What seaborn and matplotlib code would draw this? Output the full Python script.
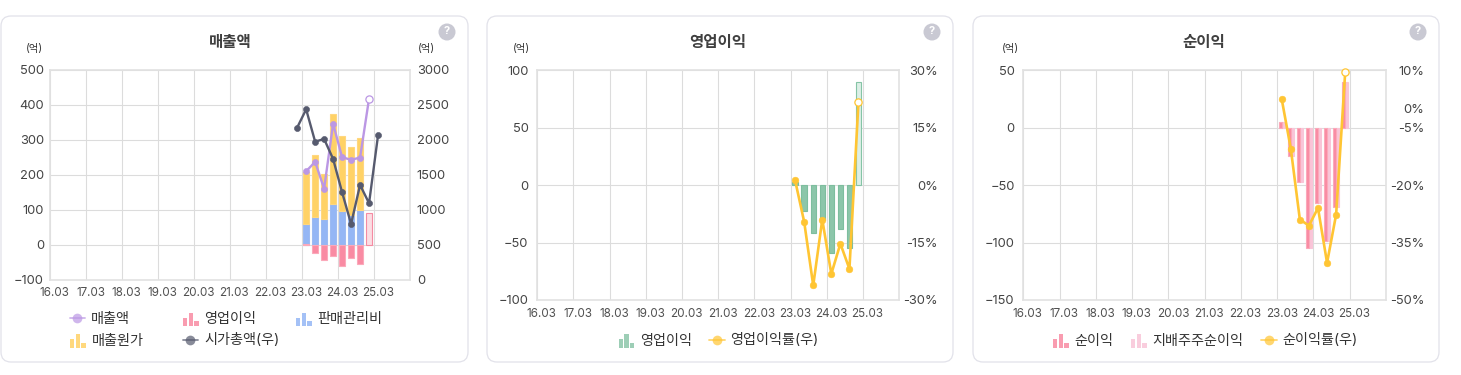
import matplotlib
matplotlib.use("Agg")
import matplotlib.pyplot as plt
import pandas as pd
import seaborn as sns
from matplotlib.patches import FancyBboxPatch, Rectangle, Circle
from matplotlib.lines import Line2D
from matplotlib.legend_handler import HandlerBase
from matplotlib.transforms import IdentityTransform

W, H = 1461, 375
sns.set_theme(style="white")
plt.rcParams['font.family'] = ['Inter', 'Noto Sans CJK KR', 'DejaVu Sans']

year_labels = ['16.03','17.03','18.03','19.03','20.03','21.03','22.03','23.03','24.03','25.03']
bar_quarters = ['23.03','23.06','23.09','23.12','24.03','24.06','24.09','24.12']

# 매출액 panel (억)
sales = [210, 237, 160, 346, 250, 243, 249, 418]
cost_top = [208, 256, 203, 375, 310, 280, 304]
sga = [60, 78, 73, 115, 96, 85, 100]
op_profit_sales = [2, -24, -43, -33, -60, -38, -55, 90]
cap_quarters = ['22.12'] + bar_quarters + ['25.03']
market_cap = [2175, 2437, 1974, 2012, 1726, 1249, 796, 1354, 1092, 2065]

# 영업이익 panel
op_profit = [3, -23, -42, -30, -59, -38, -55, 90]
op_margin = [1.2, -9.6, -26.2, -9.0, -23.2, -15.3, -21.9, 21.7]

# 순이익 panel
net_profit = [5, -25, -47, -105, -66, -99, -69, 40]
ctrl_profit = [5, -25, -47, -105, -66, -99, -69, 40]
net_margin = [2.4, -10.5, -29.0, -30.6, -26.0, -40.3, -27.7, 9.4]

C_PURPLE = '#BB97E4'
C_RED = '#F98BA3'
C_RED_E = '#FBA9BA'
C_BLUE = '#94B6F5'
C_GOLD = '#FFD266'
C_DARK = '#565A6E'
C_GREEN = '#8CC6AA'
C_PINK = '#F9C5D8'
C_YEL = '#FFC533'
GRID = '#DCDCDC'
TXT = '#444444'


def pos(q):
    y, m = q.split('.')
    return (int(y) - 16) * 4 + (int(m) - 3) / 3 + 0.5


def ypix(y):
    return H - y


fig = plt.figure(figsize=(W / 100, H / 100), dpi=100, facecolor='white')


class BarsHandle:
    def __init__(self, color):
        self.color = color


class BarsHandler(HandlerBase):
    def create_artists(self, legend, h, xd, yd, width, height, fontsize, trans):
        out = []
        bw = width * 0.28
        for i, frac in enumerate([0.62, 1.0, 0.38]):
            out.append(Rectangle((-xd + i * width * 0.36, -yd - 2.5), bw, 10 * frac,
                                 facecolor=h.color, edgecolor='none', alpha=0.85, transform=trans))
        return out


class LineHandle:
    def __init__(self, color):
        self.color = color


class LineHandler(HandlerBase):
    def create_artists(self, legend, h, xd, yd, width, height, fontsize, trans):
        cy = height / 2 - yd
        ln = Line2D([-xd, width - xd], [cy, cy], color=h.color, lw=1.3, alpha=0.7, transform=trans)
        mk = Line2D([width / 2 - xd], [cy], marker='o', ms=7, color=h.color, mec='none', alpha=0.7, transform=trans)
        return [ln, mk]


def card(x0, x1):
    fig.add_artist(FancyBboxPatch((x0, ypix(362)), x1 - x0, 346, boxstyle='round,pad=0,rounding_size=10',
                                  transform=IdentityTransform(), facecolor='white', edgecolor='#E2E2EA', lw=0.9,
                                  zorder=-5))
    cx, cy = x1 - 21, 32
    fig.add_artist(Circle((cx, ypix(cy)), 8.5, transform=IdentityTransform(), facecolor='#C9C9D3', edgecolor='none',
                          zorder=-4))
    fig.text(cx / W, 1 - (cy - 0.5) / H, '?', color='white', fontsize=8, fontweight='bold', ha='center', va='center')


def make_axes(left, right, top, bottom, ylim, yticks, y2lim, y2ticks, y2labels, right_align, lpad):
    ax = fig.add_axes([left / W, 1 - bottom / H, (right - left) / W, (bottom - top) / H])
    ax.set_facecolor('none')
    ax.set_xlim(0, 40)
    ax.set_ylim(*ylim)
    ax.set_yticks(yticks)
    ax.set_xticks(range(0, 41, 4))
    ax.set_xticklabels([])
    ax.set_xticks([pos(q) for q in year_labels], labels=year_labels, minor=True)
    ax.tick_params(axis='x', which='minor', length=0, pad=5.5, labelsize=8.4, labelcolor='#505050')
    ax.tick_params(axis='x', which='major', length=0)
    ax.tick_params(axis='y', length=0, pad=lpad, labelsize=9.3, labelcolor=TXT)
    ax.grid(True, axis='both', which='major', color=GRID, lw=0.8)
    ax.set_axisbelow(True)
    for s in ax.spines.values():
        s.set_color('#E2E2E2')
        s.set_linewidth(1.2)
    ax2 = ax.twinx()
    ax2.set_ylim(*y2lim)
    ax2.set_yticks(y2ticks, labels=y2labels)
    ax2.grid(False)
    pad = 27.8 if right_align else 5.3
    ax2.tick_params(axis='y', length=0, pad=pad, labelsize=9.3, labelcolor=TXT)
    if right_align:
        for t in ax2.get_yticklabels():
            t.set_ha('right')
    for s in ax2.spines.values():
        s.set_visible(False)
    return ax, ax2


def bar_draw(ax, quarters, values, color, w=0.6, bottom=None, edge=None, offset=0.0):
    df = pd.DataFrame({'x': [pos(q) + offset for q in quarters], 'y': values})
    kw = {}
    if bottom is not None:
        kw['bottom'] = bottom
    sns.barplot(data=df, x='x', y='y', native_scale=True, width=w, ax=ax, color=color, saturation=1,
                edgecolor=edge if edge else color, linewidth=0.8, legend=False, **kw)


def line(ax, quarters, values, color, lw=1.7, ms=4.4):
    xs = [pos(q) for q in quarters]
    sns.lineplot(x=xs, y=values, ax=ax, color=color, lw=lw, marker='o', ms=ms, mec=color, mfc=color, mew=0.4,
                 estimator=None, sort=False, errorbar=None, legend=False, zorder=4)


def open_point(ax, q, v, color, ms=5.2):
    sns.lineplot(x=[pos(q)], y=[v], ax=ax, color=color, lw=0, marker='o', ms=ms, mec=color, mfc='white', mew=0.9,
                 estimator=None, errorbar=None, legend=False, zorder=5, clip_on=False)


def fix_limits(ax, ylim):
    ax.set_xlim(0, 40)
    ax.set_ylim(*ylim)
    ax.set_xlabel('')
    ax.set_ylabel('')


def leg(x, y, label, handle):
    fig.legend(handles=[handle], labels=[label], loc='center left', bbox_to_anchor=(x / W, 1 - y / H),
               frameon=False, borderpad=0, borderaxespad=0, handlelength=1.1, handletextpad=0.42, fontsize=10.2,
               labelcolor='#333333',
               handler_map={BarsHandle: BarsHandler(), LineHandle: LineHandler()})


TITLE = dict(fontsize=11.2, fontweight='bold', color='#404040', ha='center', va='center')
UNIT = dict(fontsize=7.5, color='#333333', ha='center', va='center')

# ---------- panel 1
card(1, 468)
yl = (-100, 500)
ax, ax2 = make_axes(50, 409.5, 70, 279.5, yl, [-100, 0, 100, 200, 300, 400, 500],
                    (0, 3000), [0, 500, 1000, 1500, 2000, 2500, 3000], ['0', '500', '1000', '1500', '2000', '2500', '3000'], False, 4.3)
q7 = bar_quarters[:7]
gold_part = [t - s for t, s in zip(cost_top, sga)]
bar_draw(ax, q7, sga, C_BLUE, edge='#9DBBF2')
bar_draw(ax, q7, gold_part, C_GOLD, bottom=sga, edge='#FFD77F')
bar_draw(ax, q7, op_profit_sales[:7], C_RED, edge=C_RED_E)
bar_draw(ax, bar_quarters[7:], op_profit_sales[7:], '#FBDDE3', edge='#F58BA2')
line(ax, bar_quarters, sales, C_PURPLE)
open_point(ax, bar_quarters[7], sales[7], C_PURPLE)
line(ax2, cap_quarters, market_cap, C_DARK)
fix_limits(ax, yl)
fig.text(230 / W, 1 - 42 / H, '매출액', **TITLE)
fig.text(34 / W, 1 - 49 / H, '(억)', **UNIT)
fig.text(426 / W, 1 - 49 / H, '(억)', **UNIT)
leg(69.5, 319, '매출액', LineHandle(C_PURPLE))
leg(183, 319, '영업이익', BarsHandle(C_RED))
leg(296, 319, '판매관리비', BarsHandle(C_BLUE))
leg(70, 340.5, '매출원가', BarsHandle(C_GOLD))
leg(182.7, 340.5, '시가총액(우)', LineHandle(C_DARK))

# ---------- panel 2
card(487, 953)
yl = (-100, 100)
ax, ax2 = make_axes(537.2, 899.2, 70, 300, yl, [-100, -50, 0, 50, 100],
                    (-30, 30), [-30, -15, 0, 15, 30], ['-30%', '-15%', '0%', '15%', '30%'], True, 6.3)
bar_draw(ax, bar_quarters[:7], op_profit[:7], C_GREEN, edge='#7DBE9E')
bar_draw(ax, bar_quarters[7:], op_profit[7:], '#DCEFE6', edge='#85C4A6')
line(ax2, bar_quarters, op_margin, C_YEL, lw=1.9, ms=4.8)
open_point(ax2, bar_quarters[7], op_margin[7], C_YEL)
fix_limits(ax, yl)
fig.text(718 / W, 1 - 42 / H, '영업이익', **TITLE)
fig.text(521 / W, 1 - 49 / H, '(억)', **UNIT)
leg(618.7, 340.5, '영업이익', BarsHandle(C_GREEN))
leg(709, 340.5, '영업이익률(우)', LineHandle(C_YEL))

# ---------- panel 3
card(973, 1439)
yl = (-150, 50)
ax, ax2 = make_axes(1023.3, 1386, 70, 300, yl, [-150, -100, -50, 0, 50],
                    (-50, 10), [-50, -35, -20, -5, 0, 10], ['-50%', '-35%', '-20%', '-5%', '0%', '10%'], True, 6.3)
bar_draw(ax, bar_quarters, ctrl_profit, C_PINK, w=0.34, edge=C_PINK, offset=0.18)
bar_draw(ax, bar_quarters, net_profit, C_RED, w=0.34, edge=C_RED_E, offset=-0.18)
line(ax2, bar_quarters, net_margin, C_YEL, lw=1.9, ms=4.8)
open_point(ax2, bar_quarters[7], net_margin[7], C_YEL)
fix_limits(ax, yl)
fig.text(1204 / W, 1 - 42 / H, '순이익', **TITLE)
fig.text(1010 / W, 1 - 49 / H, '(억)', **UNIT)
leg(1053, 340.5, '순이익', BarsHandle(C_RED))
leg(1131, 340.5, '지배주주순이익', BarsHandle(C_PINK))
leg(1261, 340.5, '순이익률(우)', LineHandle(C_YEL))

fig.savefig('out.png', dpi=100, facecolor='white')
